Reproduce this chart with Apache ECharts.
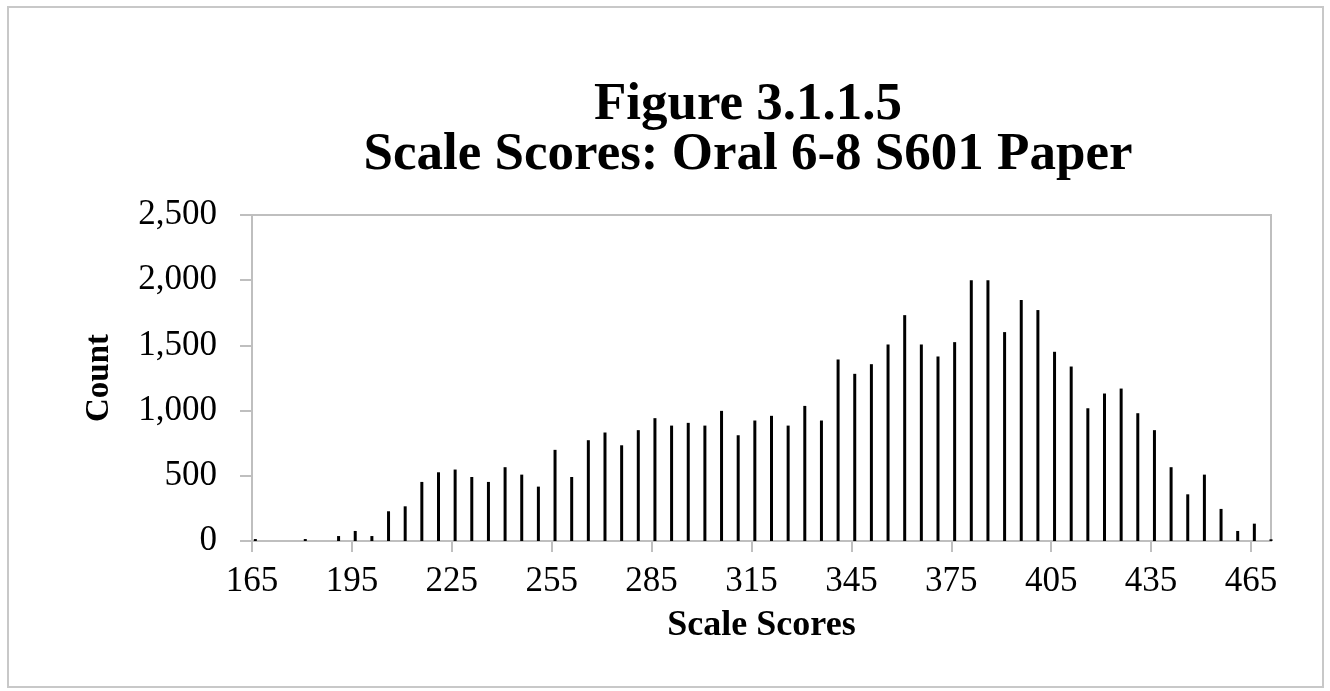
<!DOCTYPE html>
<html>
<head>
<meta charset="utf-8">
<script src="https://cdn.jsdelivr.net/npm/echarts@6/dist/echarts.min.js"></script>
<style>
html,body{margin:0;padding:0;background:#fff;}
#chart{width:1330px;height:691px;}
</style>
</head>
<body>
<div id="chart"></div>
<script>
const titleLines = ['Figure 3.1.1.5', 'Scale Scores: Oral 6-8 S601 Paper'];
const xAxisName = 'Scale Scores';
const yAxisName = 'Count';
const xTickLabels = [165, 195, 225, 255, 285, 315, 345, 375, 405, 435, 465];
const yTickLabels = [0, 500, 1000, 1500, 2000, 2500];
const scores = [166, 171, 176, 181, 186, 191, 196, 201, 206, 211, 216, 221, 226, 231, 236, 241, 246, 251, 256, 261,
  266, 271, 276, 281, 286, 291, 296, 301, 306, 311, 316, 321, 326, 331, 336, 341, 346, 351, 356, 361, 366, 371,
  376, 381, 386, 391, 396, 401, 406, 411, 416, 421, 426, 431, 436, 441, 446, 451, 456, 461, 466, 471];
const counts = [15, 0, 0, 15, 0, 38, 77, 38, 228, 266, 453, 527, 548, 491, 453, 566, 509, 417, 699, 491,
  773, 832, 734, 850, 942, 885, 906, 885, 998, 811, 924, 960, 885, 1036, 924, 1392, 1282, 1356, 1507, 1732, 1507, 1415,
  1525, 1999, 1999, 1602, 1848, 1771, 1451, 1338, 1018, 1131, 1169, 980, 850, 566, 358, 509, 246, 77, 133, 13];

const seriesData = scores.map((s, i) => [s, counts[i]]);
const FONT = '"Liberation Serif", "Times New Roman", serif';
const GRAY = '#bfbfbf';

const chart = echarts.init(document.getElementById('chart'), null, {renderer: 'canvas'});
chart.setOption({
  animation: false,
  backgroundColor: '#ffffff',
  title: {
    text: titleLines.join('\n'),
    left: 743,
    top: 75,
    textAlign: 'center',
    textStyle: {fontFamily: FONT, fontWeight: 'bold', fontSize: 53, lineHeight: 50, color: '#000'}
  },
  graphic: [{
    type: 'rect',
    shape: {x: 8, y: 7, width: 1315, height: 680},
    style: {fill: 'none', stroke: '#c8c8c8', lineWidth: 2},
    silent: true
  }],
  grid: {left: 252, right: 59, top: 215, bottom: 150, show: true, borderColor: GRAY, borderWidth: 2},
  xAxis: {
    type: 'value',
    min: 165,
    max: 471,
    name: xAxisName,
    nameLocation: 'middle',
    nameGap: 67,
    nameTextStyle: {fontFamily: FONT, fontWeight: 'bold', fontSize: 36, color: '#000'},
    axisLine: {show: true, lineStyle: {color: GRAY, width: 2}},
    axisTick: {show: true, length: 11, lineStyle: {color: GRAY, width: 2}, customValues: xTickLabels},
    axisLabel: {margin: 23, fontFamily: FONT, fontSize: 35, color: '#000', customValues: xTickLabels},
    splitLine: {show: false}
  },
  yAxis: {
    type: 'value',
    min: 0,
    max: 2500,
    interval: 500,
    name: yAxisName,
    nameLocation: 'middle',
    nameRotate: 90,
    nameGap: 136,
    nameTextStyle: {fontFamily: FONT, fontWeight: 'bold', fontSize: 33, color: '#000'},
    axisLine: {show: true, lineStyle: {color: GRAY, width: 2}},
    axisTick: {show: true, length: 12, lineStyle: {color: GRAY, width: 2}},
    axisLabel: {margin: 35, fontFamily: FONT, fontSize: 35, color: '#000',
      formatter: v => yTickLabels.includes(v) ? v.toLocaleString('en-US') : ''},
    splitLine: {show: false}
  },
  series: [{
    type: 'bar',
    data: seriesData,
    barWidth: 3,
    itemStyle: {color: '#000'},
    clip: false
  }]
});
</script>
</body>
</html>
